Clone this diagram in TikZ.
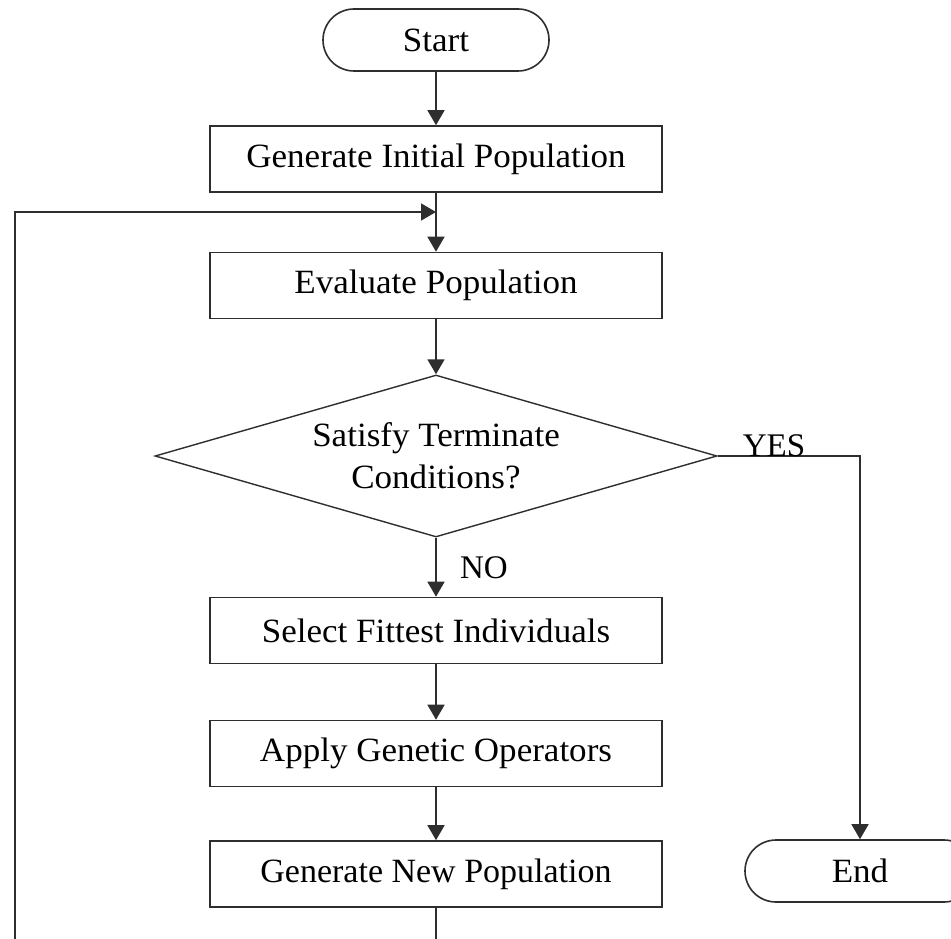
\documentclass[tikz,border=0pt]{standalone}
\usepackage{fontspec}
\setmainfont[FakeStretch=1.03]{Liberation Serif}
\newfontfamily\narrowserif{Liberation Serif}
\usetikzlibrary{shapes.geometric,arrows.meta}
\definecolor{linec}{HTML}{2E2E2E}
\begin{document}
\begin{tikzpicture}[x=1pt,y=-1pt,
  every node/.style={font=\fontsize{34}{42}\selectfont},
  proc/.style={draw=linec,line width=1.6pt,minimum width=452pt,minimum height=66pt,inner sep=0pt},
  term/.style={draw=linec,line width=1.6pt,minimum height=62pt,rounded corners=31pt,inner sep=0pt},
  decision/.style={draw=linec,line width=1.4pt,diamond,aspect=3.47,minimum width=562pt,minimum height=162pt,inner sep=0pt,align=center},
  flow/.style={draw=linec,line width=1.6pt,-{Triangle[width=17pt,length=15pt]}},
  branch/.style={font=\narrowserif\fontsize{33}{40}\selectfont}]
\useasboundingbox (0,0) rectangle (951,939);

% flowchart nodes
\node[term,minimum width=226pt] (start) at (436,40) {Start};
\node[proc] (init) at (436,159) {Generate Initial Population};
\node[proc] (eval) at (436,285.5) {Evaluate Population};
\node[decision] (cond) at (436,456) {Satisfy Terminate\\Conditions?};
\node[proc] (select) at (436,630.5) {Select Fittest Individuals};
\node[proc] (apply) at (436,753.5) {Apply Genetic Operators};
\node[proc,font=\narrowserif\fontsize{34}{42}\selectfont] (newpop) at (436,874) {Generate New Population};
\node[term,minimum width=230pt] (end) at (860,871) {End};

% loop-back route
\coordinate (loopin) at (436,212);
\coordinate (lb) at (436,960);
\coordinate (lc) at (15,960);
\coordinate (lt) at (15,212);

% connectors
\draw[flow] (start) -- (init);
\draw[flow] (init) -- (eval);
\draw[flow] (eval) -- (cond);
\draw[flow] (cond) -- (select);
\draw[flow] (select) -- (apply);
\draw[flow] (apply) -- (newpop);
\draw[flow] (cond.east) -| (end);
\draw[flow] (newpop) -- (lb) -- (lc) -- (lt) -- (loopin);

% branch labels
\node[branch,anchor=south,inner sep=0pt] (yes) at (774,457) {YES};
\node[branch] (no) at (484,568) {NO};
\end{tikzpicture}
\end{document}
